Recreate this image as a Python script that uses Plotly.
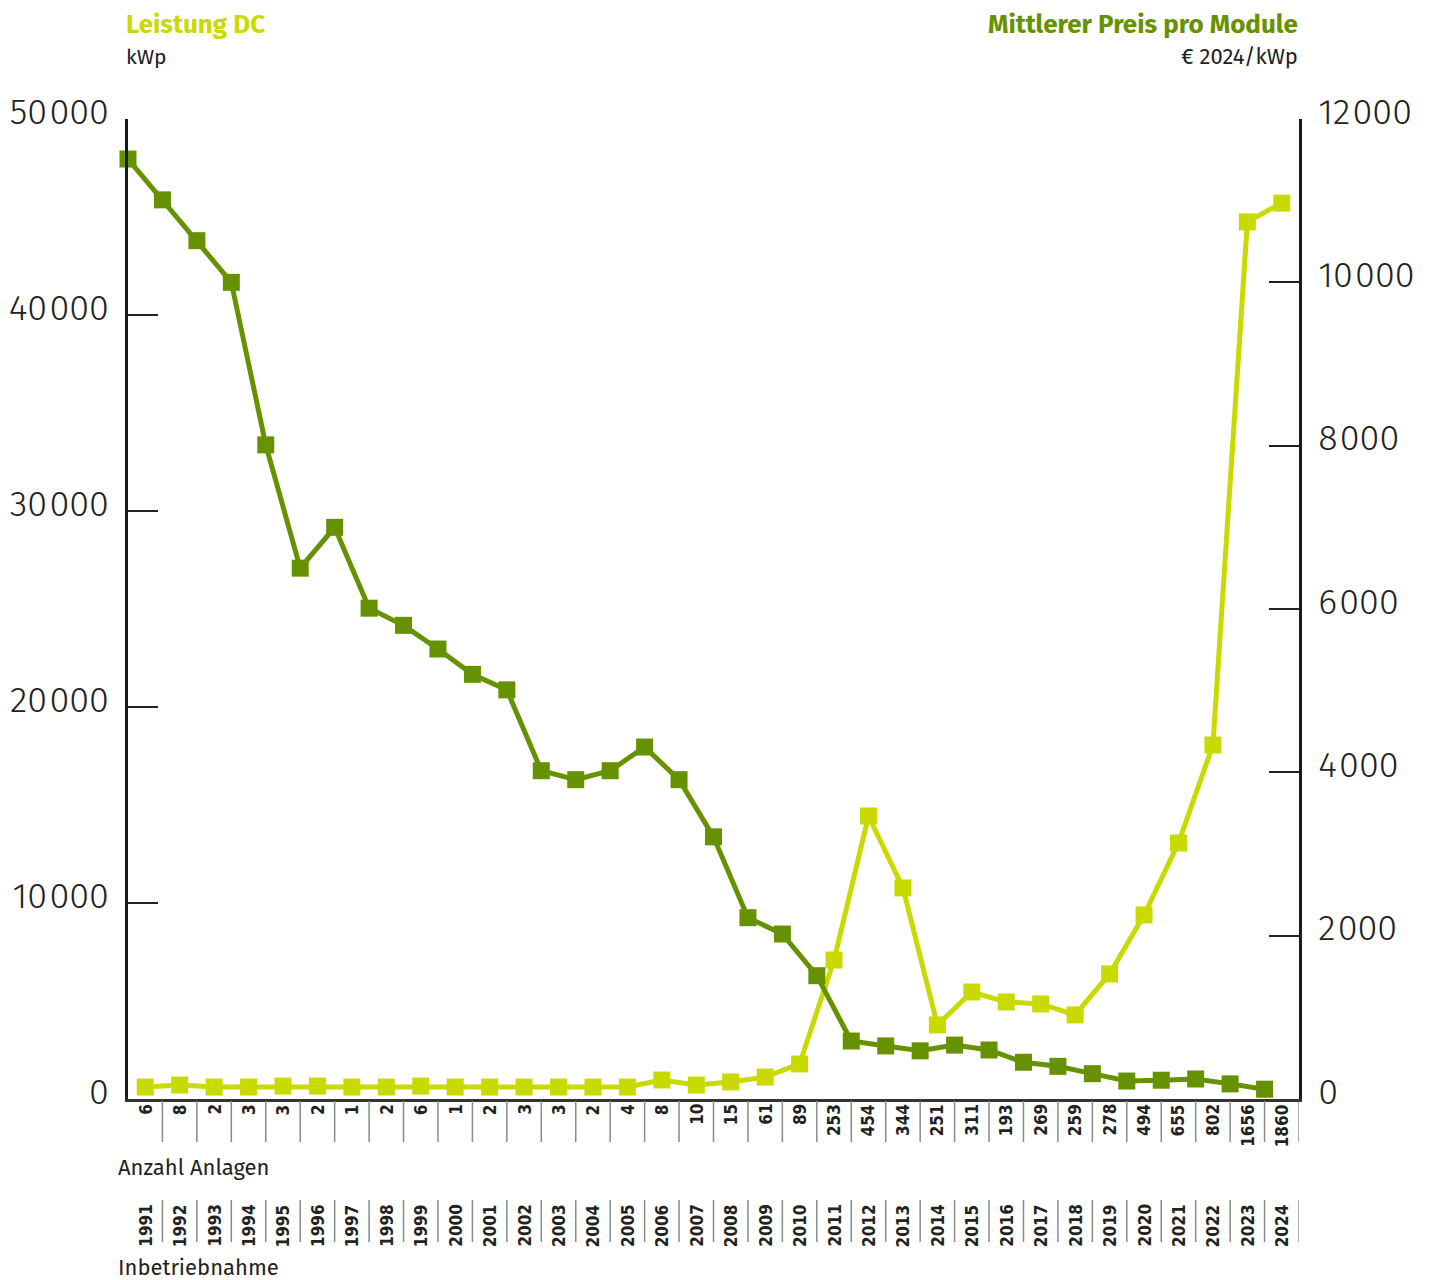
import plotly.graph_objects as go

# ---- data ----
jahre = ["1991", "1992", "1993", "1994", "1995", "1996", "1997", "1998", "1999", "2000",
         "2001", "2002", "2003", "2004", "2005", "2006", "2007", "2008", "2009", "2010",
         "2011", "2012", "2013", "2014", "2015", "2016", "2017", "2018", "2019", "2020",
         "2021", "2022", "2023", "2024"]
anzahl_anlagen = ["6", "8", "2", "3", "3", "2", "1", "2", "6", "1",
                  "2", "3", "3", "2", "4", "8", "10", "15", "61", "89",
                  "253", "454", "344", "251", "311", "193", "269", "259", "278", "494",
                  "655", "802", "1656", "1860"]
leistung_dc_kwp = [610, 710, 610, 610, 660, 660, 610, 610, 660, 610,
                   610, 610, 610, 610, 610, 970, 710, 870, 1120, 1790,
                   7090, 14440, 10770, 3780, 5460, 4950, 4850, 4290, 6380, 9390,
                   13060, 18060, 44750, 45710]
preis_eur_kwp = [11510, 11010, 10510, 10000, 8010, 6500, 7000, 6010, 5800, 5510,
                 5200, 5010, 4020, 3910, 4020, 4310, 3910, 3210, 2220, 2020,
                 1510, 710, 650, 590, 660, 600, 450, 400, 310, 220,
                 230, 245, 185, 120]
left_ticks = [0, 10000, 20000, 30000, 40000, 50000]
right_ticks = [0, 2000, 4000, 6000, 8000, 10000, 12000]

# ---- styling ----
DARK = "#679200"
LIGHT = "#C9DA00"
TXT = "#222222"
FONT = "Fira Sans, Lato, Open Sans, sans-serif"
COND = "Liberation Sans Narrow, DejaVu Sans Condensed, sans-serif"

OFF = 8  # page body margin
W, H = 1434 - OFF, 1280 - OFF
L_PX, R_PX, T_PX, B_PX = 128 - OFF, 1299 - OFF, 119 - OFF, 1099 - OFF


def py(page_px):
    return (B_PX - (page_px - OFF)) / (B_PX - T_PX)


def pxx(page_px):
    return ((page_px - OFF) - L_PX) / (R_PX - L_PX)


def fmt(v):
    return f"{v:,}".replace(",", "\u200A")


idx = list(range(len(jahre)))
idx_dark = [i - 0.5 for i in idx]

fig = go.Figure()
fig.add_trace(go.Scatter(
    x=idx, y=leistung_dc_kwp, mode="lines+markers", yaxis="y",
    line=dict(color=LIGHT, width=5),
    marker=dict(symbol="square", size=17, color=LIGHT),
    cliponaxis=False, showlegend=False, name="Leistung DC"))
fig.add_trace(go.Scatter(
    x=idx_dark, y=preis_eur_kwp, mode="lines+markers", yaxis="y2",
    line=dict(color=DARK, width=5),
    marker=dict(symbol="square", size=17, color=DARK),
    cliponaxis=False, showlegend=False, name="Mittlerer Preis pro Module"))

shapes = []
for k in range(1, len(jahre) + 1):
    xb = k - 0.5
    for (y0, y1) in [(1101, 1142), (1200, 1242)]:
        shapes.append(dict(type="line", xref="x", yref="paper", x0=xb, x1=xb,
                           y0=py(y0), y1=py(y1), line=dict(color="#8a8a8a", width=1.5)))

annotations = []
for i, (j, a) in enumerate(zip(jahre, anzahl_anlagen)):
    annotations.append(dict(x=i, y=py(1102), xref="x", yref="paper", text=f"<b>{a}</b>",
                            textangle=-90, showarrow=False, xanchor="center", yanchor="top",
                            font=dict(family=COND, size=17, color=TXT)))
    annotations.append(dict(x=i, y=py(1202), xref="x", yref="paper", text=f"<b>{j}</b>",
                            textangle=-90, showarrow=False, xanchor="center", yanchor="top",
                            font=dict(family=COND, size=17, color=TXT)))

annotations += [
    dict(x=pxx(124), y=py(24), xref="paper", yref="paper", text="<b>Leistung DC</b>",
         showarrow=False, xanchor="left", yanchor="middle",
         font=dict(family=FONT, size=26, color=LIGHT)),
    dict(x=pxx(124), y=py(57), xref="paper", yref="paper", text="kWp",
         showarrow=False, xanchor="left", yanchor="middle",
         font=dict(family=FONT, size=21, color=TXT)),
    dict(x=pxx(1300), y=py(24), xref="paper", yref="paper", text="<b>Mittlerer Preis pro Module</b>",
         showarrow=False, xanchor="right", yanchor="middle",
         font=dict(family=FONT, size=26, color=DARK)),
    dict(x=pxx(1300), y=py(57), xref="paper", yref="paper", text="€ 2024/kWp",
         showarrow=False, xanchor="right", yanchor="middle",
         font=dict(family=FONT, size=22, color=TXT)),
    dict(x=pxx(116), y=py(1167), xref="paper", yref="paper", text="Anzahl Anlagen",
         showarrow=False, xanchor="left", yanchor="middle",
         font=dict(family=FONT, size=22, color=TXT)),
    dict(x=pxx(116), y=py(1267), xref="paper", yref="paper", text="Inbetriebnahme",
         showarrow=False, xanchor="left", yanchor="middle",
         font=dict(family=FONT, size=22, color=TXT)),
]

fig.update_layout(
    width=W, height=H,
    margin=dict(l=L_PX, r=W - R_PX, t=T_PX, b=H - B_PX, pad=0, autoexpand=False),
    paper_bgcolor="white", plot_bgcolor="white",
    xaxis=dict(range=[-0.5, len(jahre) - 0.5], showgrid=False, zeroline=False,
               showticklabels=False, ticks="", showline=True, linewidth=3,
               linecolor="#333333", automargin=False),
    yaxis=dict(range=[0, 50000], tickvals=left_ticks, ticktext=[fmt(v) for v in left_ticks],
               showgrid=False, zeroline=False, ticks="inside", ticklen=30, tickwidth=1.5,
               tickcolor=TXT, showline=True, linewidth=3, linecolor="#1a1a1a",
               tickfont=dict(family=FONT, size=36, color=TXT, weight=300),
               ticklabelstandoff=9, ticklabelshift=-8, automargin=False),
    yaxis2=dict(range=[0, 12000], tickvals=right_ticks, ticktext=[fmt(v) for v in right_ticks],
                overlaying="y", side="right", showgrid=False, zeroline=False,
                ticks="inside", ticklen=30, tickwidth=1.5, tickcolor=TXT,
                showline=True, linewidth=3, linecolor="#1a1a1a",
                tickfont=dict(family=FONT, size=36, color=TXT, weight=300),
                ticklabelstandoff=9, ticklabelshift=-8, automargin=False),
    shapes=shapes,
    annotations=annotations,
)

fig.write_html("out.html")
